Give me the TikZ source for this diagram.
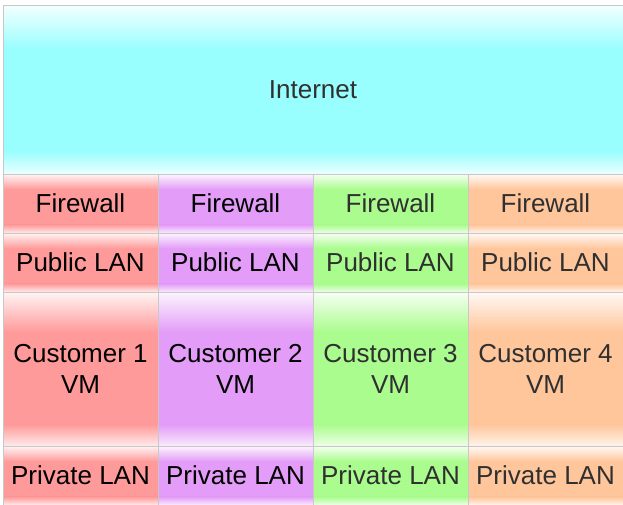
\documentclass[tikz,border=0pt]{standalone}
\usepackage{fontspec}
\setmainfont{Liberation Sans}
\usetikzlibrary{calc}
\definecolor{cyanc}{HTML}{98FEFE}
\definecolor{redc}{HTML}{FF9A9A}
\definecolor{purpc}{HTML}{E39CF8}
\definecolor{greenc}{HTML}{AAFC8E}
\definecolor{orangec}{HTML}{FFC69C}
\definecolor{linegray}{HTML}{C8C8C8}
\definecolor{darktext}{HTML}{303030}
\tikzset{
  glossy/.style={path picture={
    \fill[#1] (path picture bounding box.south west) rectangle (path picture bounding box.north east);
    \shade[top color=#1!10!white, bottom color=#1]
      (path picture bounding box.north west) rectangle
      ($(path picture bounding box.north east)!0.26!(path picture bounding box.south east)$);
    \shade[top color=#1, bottom color=#1!20!white]
      ($(path picture bounding box.north west)!0.86!(path picture bounding box.south west)$) rectangle
      (path picture bounding box.south east);
  }},
  cell/.style={draw=linegray, line width=0.9pt, minimum width=155pt, minimum height=#1,
    inner sep=0pt, outer sep=0pt, anchor=north west, align=center,
    font=\fontsize{26}{31}\selectfont},
  col1/.style={glossy=redc, text=black},
  col2/.style={glossy=purpc, text=black},
  col3/.style={glossy=greenc, text=darktext},
  col4/.style={glossy=orangec, text=darktext},
}
\begin{document}
\begin{tikzpicture}[x=1pt,y=1pt]
\fill[white] (0,0) rectangle (623,-504);
\useasboundingbox (0,0) rectangle (623,-504);
\clip (0,0) rectangle (623,-504);
\node[cell=169pt, minimum width=620pt, glossy=cyanc, text=darktext] (inet) at (3,-5) {Internet};
% row 1
\node[cell=59pt, col1] (fw1) at (3,-174) {Firewall};
\node[cell=59pt, col2] (fw2) at (158,-174) {Firewall};
\node[cell=59pt, col3] (fw3) at (313,-174) {Firewall};
\node[cell=59pt, col4] (fw4) at (468,-174) {Firewall};
% row 2
\node[cell=59pt, col1] (pub1) at (3,-233) {Public LAN};
\node[cell=59pt, col2] (pub2) at (158,-233) {Public LAN};
\node[cell=59pt, col3] (pub3) at (313,-233) {Public LAN};
\node[cell=59pt, col4] (pub4) at (468,-233) {Public LAN};
% row 3
\node[cell=154pt, col1] (vm1) at (3,-292) {Customer 1\\VM};
\node[cell=154pt, col2] (vm2) at (158,-292) {Customer 2\\VM};
\node[cell=154pt, col3] (vm3) at (313,-292) {Customer 3\\VM};
\node[cell=154pt, col4] (vm4) at (468,-292) {Customer 4\\VM};
% row 4
\node[cell=59pt, col1] (prv1) at (3,-446) {Private LAN};
\node[cell=59pt, col2] (prv2) at (158,-446) {Private LAN};
\node[cell=59pt, col3] (prv3) at (313,-446) {Private LAN};
\node[cell=59pt, col4] (prv4) at (468,-446) {Private LAN};
\end{tikzpicture}
\end{document}
